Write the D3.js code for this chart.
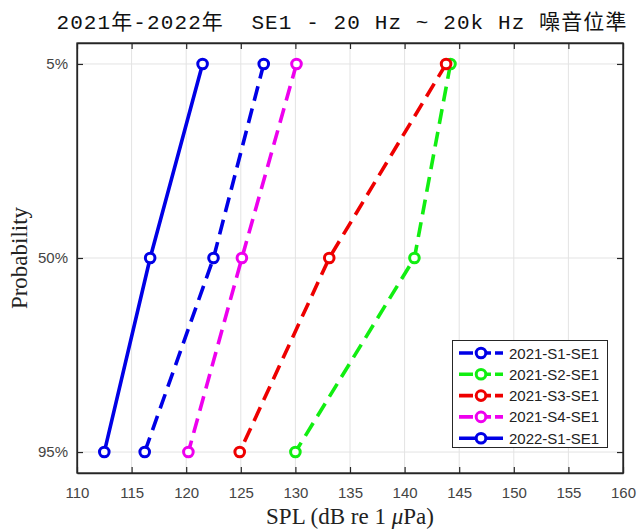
<!DOCTYPE html>
<html><head><meta charset="utf-8">
<script src="https://cdn.jsdelivr.net/npm/d3@7"></script>
<style>body{margin:0;background:#fff}</style>
</head><body>
<script>
const probLabels = ["5%", "50%", "95%"];
const xTicks = [110,115,120,125,130,135,140,145,150,155,160];
const seriesNames = ["2021-S1-SE1","2021-S2-SE1","2021-S3-SE1","2021-S4-SE1","2022-S1-SE1"];
const seriesColors = ["#0000e6","#11ee11","#ee0000","#ee00ee","#0000e6"];
const seriesDashed = [true,true,true,true,false];
const s2021S1 = [127.1, 122.5, 116.2];
const s2021S2 = [144.2, 140.9, 130.0];
const s2021S3 = [143.8, 133.1, 124.9];
const s2021S4 = [130.1, 125.1, 120.2];
const s2022S1 = [121.5, 116.7, 112.5];
const seriesValues = [s2021S1, s2021S2, s2021S3, s2021S4, s2022S1];

const W = 638, H = 532;
const m = {l:77, r:623, t:43, b:473};
const svg = d3.select("body").append("svg").attr("width",W).attr("height",H);
const x = d3.scaleLinear().domain([110,160]).range([m.l,m.r]);
const y = d3.scaleLinear().domain([-0.108,2.108]).range([m.t,m.b]);

// grid
const g = svg.append("g");
g.selectAll(".gx").data(xTicks).join("line")
  .attr("x1",d=>x(d)).attr("x2",d=>x(d)).attr("y1",m.t).attr("y2",m.b)
  .attr("stroke","#e3e3e3").attr("stroke-width",1);
g.selectAll(".gy").data(probLabels).join("line")
  .attr("y1",(d,i)=>y(i)).attr("y2",(d,i)=>y(i)).attr("x1",m.l).attr("x2",m.r)
  .attr("stroke","#e3e3e3").attr("stroke-width",1);

// axes
const axC = "#262626";
const xb = svg.append("g").attr("transform",`translate(0,${m.b})`)
  .call(d3.axisBottom(x).tickValues(xTicks).tickSizeInner(-6).tickSizeOuter(0).tickPadding(14));
const xt = svg.append("g").attr("transform",`translate(0,${m.t})`)
  .call(d3.axisTop(x).tickValues(xTicks).tickSizeInner(-6).tickSizeOuter(0).tickFormat(""));
const yl = svg.append("g").attr("transform",`translate(${m.l},0)`)
  .call(d3.axisLeft(y).tickValues([0,1,2]).tickFormat((d)=>probLabels[d]).tickSizeInner(-6).tickSizeOuter(0).tickPadding(9));
const yr = svg.append("g").attr("transform",`translate(${m.r},0)`)
  .call(d3.axisRight(y).tickValues([0,1,2]).tickSizeInner(-6).tickSizeOuter(0).tickFormat(""));
[xb,xt,yl,yr].forEach(a=>{
  a.select(".domain").attr("stroke",axC).attr("stroke-width",1.3);
  a.selectAll(".tick line").attr("stroke",axC).attr("stroke-width",1.2);
  a.selectAll("text").attr("font-family","'Liberation Sans',Arial,sans-serif").attr("font-size",15).attr("fill","#444");
});
svg.append("rect").attr("x",m.l).attr("y",m.t).attr("width",m.r-m.l).attr("height",m.b-m.t)
  .attr("fill","none").attr("stroke",axC).attr("stroke-width",1.3);

// lines
const line = d3.line().x(d=>x(d.v)).y(d=>y(d.i));
seriesValues.forEach((vals,k)=>{
  const pts = vals.map((v,i)=>({v,i}));
  svg.append("path").datum(pts).attr("d",line).attr("fill","none")
    .attr("stroke",seriesColors[k]).attr("stroke-width",3.6)
    .attr("stroke-dasharray",seriesDashed[k]?"15,8":null);
  svg.selectAll(null).data(pts).join("circle")
    .attr("cx",d=>x(d.v)).attr("cy",d=>y(d.i)).attr("r",4.8)
    .attr("fill","#fff").attr("stroke",seriesColors[k]).attr("stroke-width",3);
});

// legend
const lg = svg.append("g");
lg.append("rect").attr("x",452.5).attr("y",340.5).attr("width",155).attr("height",107)
  .attr("fill","#fff").attr("stroke","#262626").attr("stroke-width",1);
seriesNames.forEach((n,k)=>{
  const yy = 353 + k*21.3;
  lg.append("line").attr("x1",459).attr("x2",503).attr("y1",yy).attr("y2",yy)
    .attr("stroke",seriesColors[k]).attr("stroke-width",3.6)
    .attr("stroke-dasharray",seriesDashed[k]?"14,4":null);
  lg.append("circle").attr("cx",481).attr("cy",yy).attr("r",4.8)
    .attr("fill","#fff").attr("stroke",seriesColors[k]).attr("stroke-width",3);
  lg.append("text").attr("x",509).attr("y",yy+5.5).text(n)
    .attr("font-family","'Liberation Sans',Arial,sans-serif").attr("font-size",15).attr("fill","#222");
});

// titles
svg.append("text").attr("x",342).attr("y",29).attr("text-anchor","middle")
  .attr("font-family","'Liberation Mono','Noto Sans CJK TC',monospace").attr("font-size",21)
  .attr("letter-spacing",1.1).attr("fill","#111")
  .attr("xml:space","preserve")
  .text("2021年-2022年  SE1 - 20 Hz ~ 20k Hz 噪音位準");
const xl = svg.append("text").attr("x",350).attr("y",524).attr("text-anchor","middle")
  .attr("font-family","'Liberation Serif','Times New Roman',serif").attr("font-size",23).attr("fill","#222");
xl.append("tspan").text("SPL (dB re 1 ");
xl.append("tspan").attr("font-style","italic").text("μ");
xl.append("tspan").text("Pa)");
svg.append("text").attr("transform","translate(27,258) rotate(-90)").attr("text-anchor","middle")
  .attr("font-family","'Liberation Serif','Times New Roman',serif").attr("font-size",23).attr("fill","#222")
  .text("Probability");
</script>
</body></html>
